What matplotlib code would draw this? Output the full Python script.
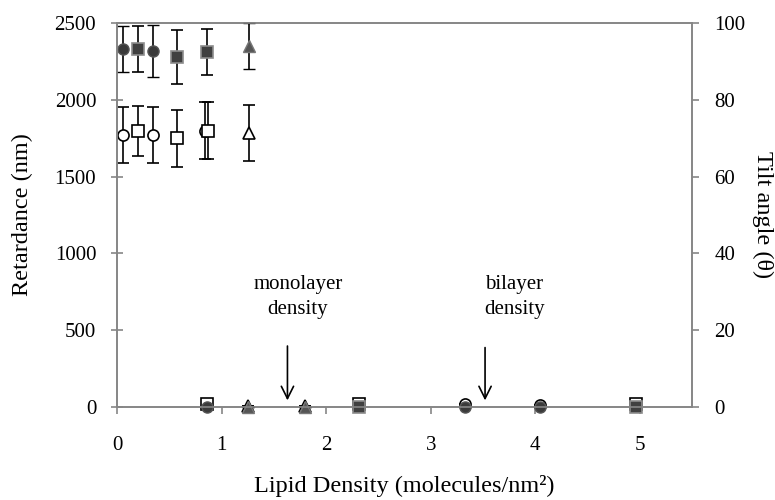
import matplotlib
matplotlib.use("Agg")
import matplotlib.pyplot as plt
import numpy as np

plt.rcParams['font.family'] = ['Liberation Serif', 'DejaVu Serif']
plt.rcParams['font.size'] = 15

# retardance (nm), filled markers, left axis
circ_x = [0.06, 0.34, 0.86, 3.33, 4.05]
circ_ret = [2330, 2318, 0, 0, 0]
circ_ret_err = [150, 170, 0, 0, 0]
sq_x = [0.20, 0.57, 0.86, 2.31, 4.96]
sq_ret = [2330, 2280, 2310, 0, 0]
sq_ret_err = [150, 175, 150, 0, 0]
tri_x = [1.26, 1.25, 1.80]
tri_ret = [2350, 0, 0]
tri_ret_err = [150, 0, 0]

# tilt angle (deg), open markers, right axis
circ_tx = [0.06, 0.34, 0.84, 3.33, 4.05]
circ_tilt = [70.8, 70.8, 72.0, 0.8, 0.4]
circ_tilt_err = [7.2, 7.2, 7.4, 0, 0]
sq_tx = [0.20, 0.57, 0.87, 0.86, 2.31, 4.96]
sq_tilt = [71.9, 70.0, 72.0, 0.8, 0.8, 0.8]
sq_tilt_err = [6.5, 7.4, 7.4, 0, 0, 0]
tri_tx = [1.26, 1.25, 1.80]
tri_tilt = [71.3, 0.3, 0.3]
tri_tilt_err = [7.3, 0, 0]

fig = plt.figure(figsize=(7.75, 5), dpi=100)
ax = fig.add_subplot(111)
fig.subplots_adjust(left=0.151, right=0.893, top=0.954, bottom=0.186)
ax2 = ax.twinx()
ax2.set_zorder(ax.get_zorder() - 1)
ax.patch.set_visible(False)

eb = dict(ecolor='black', elinewidth=1.2, capsize=4, capthick=1.2,
          linestyle='none', clip_on=False)

ax2.errorbar(circ_tx, circ_tilt, yerr=circ_tilt_err, marker='o', ms=8,
             mfc='white', mec='black', mew=1.2, **eb)
ax2.errorbar(sq_tx, sq_tilt, yerr=sq_tilt_err, marker='s', ms=8,
             mfc='white', mec='black', mew=1.2, **eb)
ax2.errorbar(tri_tx, tri_tilt, yerr=tri_tilt_err, marker='^', ms=8,
             mfc='white', mec='black', mew=1.2, **eb)

ax.errorbar(circ_x, circ_ret, yerr=circ_ret_err, marker='o', ms=8,
            mfc='#3a3a3a', mec='#555555', mew=1, **eb)
ax.errorbar(sq_x, sq_ret, yerr=sq_ret_err, marker='s', ms=8,
            mfc='#404040', mec='#8c8c8c', mew=1.2, **eb)
ax.errorbar(tri_x, tri_ret, yerr=tri_ret_err, marker='^', ms=9,
            mfc='#555555', mec='#777777', mew=1, **eb)

ax.set_xlim(0, 5.5)
ax.set_ylim(0, 2500)
ax2.set_ylim(0, 100)
ax.set_xticks([0, 1, 2, 3, 4, 5])
ax.set_yticks([0, 500, 1000, 1500, 2000, 2500])
ax2.set_yticks([0, 20, 40, 60, 80, 100])

for a in (ax, ax2):
    for s in a.spines.values():
        s.set_color('#868686')
        s.set_linewidth(1.2)
    a.tick_params(color='#868686', width=1.2, length=5)
ax.tick_params(axis='x', direction='out', pad=16)
ax.tick_params(axis='y', direction='inout', length=8, pad=11)
ax2.tick_params(axis='y', direction='out', pad=11)

ax.set_xlabel('Lipid Density (molecules/nm\u00b2)', fontsize=17.5, va='center')
ax.set_ylabel('Retardance (nm)', fontsize=17.5, va='center')
ax2.set_ylabel('Tilt angle (\u03b8)', rotation=270, fontsize=17.5, va='center')
ax.xaxis.set_label_coords(0.5, -0.205)
ax.yaxis.set_label_coords(-0.165, 0.5)
ax2.yaxis.set_label_coords(1.122, 0.5)

arrow = dict(arrowstyle='->', color='black', lw=1.2, mutation_scale=22)
ax.annotate('', xy=(1.63, 25), xytext=(1.63, 415), arrowprops=arrow)
ax.annotate('', xy=(3.52, 25), xytext=(3.52, 405), arrowprops=arrow)
ax.text(1.73, 716, 'monolayer\ndensity', ha='center', va='center', linespacing=1.45)
ax.text(3.80, 716, 'bilayer\ndensity', ha='center', va='center', linespacing=1.45)

fig.savefig('out.png', dpi=100)
